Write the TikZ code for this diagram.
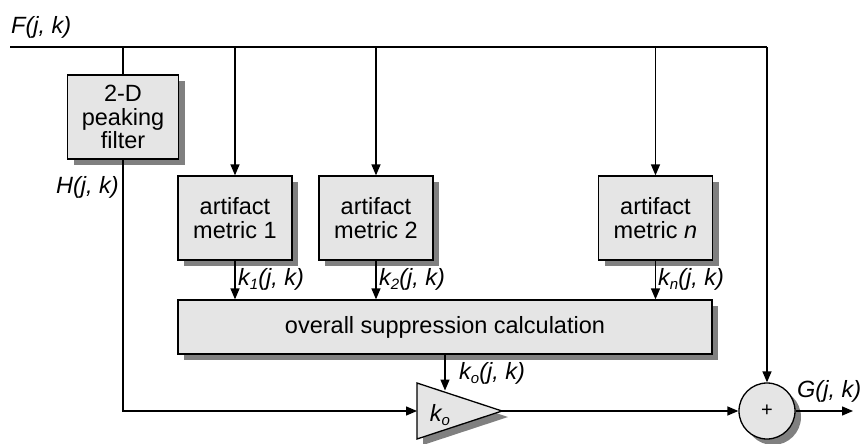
\documentclass[tikz,border=0pt]{standalone}
\usepackage{fontspec}
\setmainfont{Liberation Sans}
\usetikzlibrary{arrows.meta,shadows}

% small lowered index for signal names
\newcommand\lsub[1]{\raisebox{-0.35ex}{\fontsize{15}{15}\selectfont #1}}

\tikzset{
  x=1pt, y=-1pt,
  wire/.style={line width=1.3pt},
  flow/.style={wire, -{Triangle[length=11pt,width=9pt]}},
  shade box/.style={drop shadow={shadow xshift=6pt, shadow yshift=-6pt, fill=black!50, opacity=1}},
  block/.style={draw, line width=1.3pt, fill=black!10, shade box, align=center,
    inner sep=0pt, font=\fontsize{23.5}{23.5}\selectfont},
  sig/.style={font=\fontsize{23.5}{23.5}\selectfont\itshape, inner sep=0pt},
}

\begin{document}
\begin{tikzpicture}
\useasboundingbox (0,0) rectangle (860,444);

% processing blocks
\node[block, minimum width=111pt, minimum height=84pt] (peak) at (123,117) {2-D\\peaking\\filter};
\node[block, minimum width=114pt, minimum height=84pt] (m1) at (235,218) {artifact\\metric 1};
\node[block, minimum width=114pt, minimum height=84pt] (m2) at (376,218) {artifact\\metric 2};
\node[block, minimum width=114pt, minimum height=84pt] (mn) at (655.5,218) {artifact\\metric \textit{n}};
\node[block, minimum width=534pt, minimum height=54pt] (calc) at (445,327) {overall suppression calculation};

% gain stage (triangle) and summing junction
\coordinate (tin) at (417,411);
\coordinate (tout) at (502,411);
\coordinate (tgain) at (445,390.5);
\draw[wire, fill=black!10, shade box, line join=miter] (417,383) -- (tout) -- (417,439) -- cycle;
\node[sig] (kgain) at (440,415) {k\lsub{o}};
\node[block, circle, minimum size=56pt, font=\fontsize{20}{20}\selectfont] (sum) at (767,411) {+};

% input bus
\coordinate (fin) at (10,47);
\coordinate (fturn) at (767,47);
\coordinate (hturn) at (123,411);
\coordinate (gout) at (853,411);
\draw[wire] (fin) -- (fturn);
\draw[flow] (fturn) -- (sum.north);
\draw[wire] (peak.north |- fin) -- (peak.north);
\draw[flow] (m1.north |- fin) -- (m1.north);
\draw[flow] (m2.north |- fin) -- (m2.north);
\draw[flow] (mn.north |- fin) -- (mn.north);

% metric outputs into the combiner
\draw[flow] (m1.south) -- (m1.south |- calc.north);
\draw[flow] (m2.south) -- (m2.south |- calc.north);
\draw[flow] (mn.south) -- (mn.south |- calc.north);
\draw[flow] (calc.south -| tgain) -- (tgain);

% filtered path through the gain to the output
\draw[flow] (peak.south) -- (hturn) -- (tin);
\draw[flow] (tout) -- (sum.west);
\draw[flow] (sum.east) -- (gout);

% signal names
\node[sig, anchor=base west] (lf) at (11,34) {F(j, k)};
\node[sig, anchor=base east] (lh) at (119,193) {H(j, k)};
\node[sig, anchor=base west] (l1) at (238,285) {k\lsub{1}(j, k)};
\node[sig, anchor=base west] (l2) at (379,285) {k\lsub{2}(j, k)};
\node[sig, anchor=base west] (ln) at (658,285) {k\lsub{n}(j, k)};
\node[sig, anchor=base west] (lo) at (459,379) {k\lsub{o}(j, k)};
\node[sig, anchor=base west] (lg) at (797,397) {G(j, k)};
\end{tikzpicture}
\end{document}
